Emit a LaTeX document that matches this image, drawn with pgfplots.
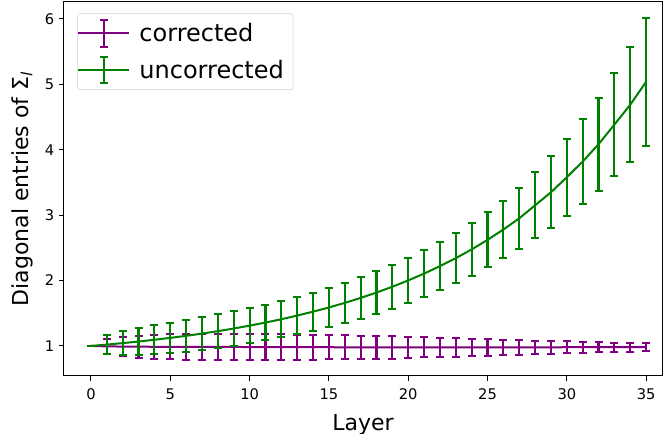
\documentclass[border=0pt]{standalone}
\usepackage{fontspec}
\setmainfont{DejaVu Sans}
\usepackage{pgfplots}
\usepackage{pgfplotstable}
\pgfplotsset{compat=1.18}
\definecolor{mplpurple}{HTML}{800080}
\definecolor{mplgreen}{HTML}{008000}

\pgfplotstableread{
x y err
0 1.000 0
1 0.993 0.11
2 0.990 0.15
3 0.988 0.17
4 0.987 0.18
5 0.986 0.19
6 0.985 0.197
7 0.985 0.200
8 0.984 0.203
9 0.984 0.203
10 0.983 0.200
11 0.982 0.197
12 0.982 0.193
13 0.981 0.190
14 0.980 0.188
15 0.980 0.186
16 0.979 0.183
17 0.978 0.180
18 0.978 0.178
19 0.978 0.174
20 0.978 0.164
21 0.978 0.155
22 0.978 0.148
23 0.978 0.140
24 0.978 0.133
25 0.978 0.125
26 0.979 0.118
27 0.979 0.111
28 0.979 0.102
29 0.979 0.095
30 0.980 0.088
31 0.980 0.082
32 0.980 0.077
33 0.980 0.072
34 0.981 0.067
35 0.981 0.064
}\corrected

\pgfplotstableread{
x y err
0 1.000 0
1 1.020 0.14
2 1.043 0.18
3 1.067 0.21
4 1.094 0.225
5 1.123 0.235
6 1.154 0.245
7 1.189 0.250
8 1.226 0.260
9 1.266 0.262
10 1.310 0.265
11 1.357 0.270
12 1.408 0.278
13 1.464 0.285
14 1.524 0.290
15 1.588 0.300
16 1.658 0.307
17 1.734 0.315
18 1.816 0.325
19 1.905 0.333
20 2.002 0.343
21 2.106 0.355
22 2.220 0.368
23 2.342 0.380
24 2.476 0.400
25 2.622 0.420
26 2.780 0.443
27 2.952 0.470
28 3.150 0.505
29 3.350 0.550
30 3.580 0.590
31 3.820 0.645
32 4.085 0.710
33 4.385 0.790
34 4.690 0.875
35 5.040 0.975
}\uncorrected

% legend sample: line with an error bar through it
\newcommand{\errlegend}[1]{%
  \draw[#1, line width=1.5pt] (0pt,0pt) -- (38pt,0pt);
  \draw[#1, line width=1.6pt] (19pt,-10pt) -- (19pt,10pt);
  \draw[#1, line width=1.5pt] (16pt,-10pt) -- (22pt,-10pt);
  \draw[#1, line width=1.5pt] (16pt,10pt) -- (22pt,10pt);
}

\begin{document}
\begin{tikzpicture}
  \useasboundingbox (-48pt,-43.5pt) rectangle (449.25pt,282pt);
  \begin{axis}[
    at={(0,0)}, anchor=south west,
    scale only axis,
    width=448.5pt, height=280.5pt,
    xmin=-1.7, xmax=36.0,
    ymin=0.54, ymax=6.26,
    xtick={0,5,...,35},
    ytick={1,2,...,6},
    tick align=outside,
    major tick length=3.75pt,
    xtick pos=left, ytick pos=left,
    tick style={black, line width=0.75pt},
    axis line style={black, line width=0.75pt},
    tick label style={font=\fontsize{11}{13}\selectfont},
    xticklabel style={yshift=-2.5pt},
    /pgf/number format/assume math mode=true,
    xlabel={Layer},
    ylabel={Diagonal entries of Σ\textsubscript{\itshape l}},
    label style={font=\fontsize{16.5}{19}\selectfont},
    xlabel style={yshift=-4pt},
    ylabel style={yshift=2pt},
    legend style={
      at={(0.022,0.97)}, anchor=north west,
      draw=black!18, rounded corners=2pt,
      font=\fontsize{18}{21}\selectfont,
      inner xsep=0pt, inner ysep=4pt,
      row sep=6pt,
      nodes={inner xsep=7pt, inner ysep=1pt},
    },
    legend cell align=left,
  ]
    \addplot[mplpurple, line width=1.5pt, no marks,
      legend image code/.code={\errlegend{mplpurple}},
      error bars/.cd, y dir=both, y explicit,
      error bar style={line width=1.6pt, mplpurple},
      error mark options={mplpurple, line width=1.5pt, mark size=3pt, rotate=90}]
      table[x=x, y=y, y error=err] {\corrected};
    \addlegendentry{corrected}
    \addplot[mplgreen, line width=1.5pt, no marks,
      legend image code/.code={\errlegend{mplgreen}},
      error bars/.cd, y dir=both, y explicit,
      error bar style={line width=1.6pt, mplgreen},
      error mark options={mplgreen, line width=1.5pt, mark size=3pt, rotate=90}]
      table[x=x, y=y, y error=err] {\uncorrected};
    \addlegendentry{uncorrected}
  \end{axis}
\end{tikzpicture}
\end{document}
